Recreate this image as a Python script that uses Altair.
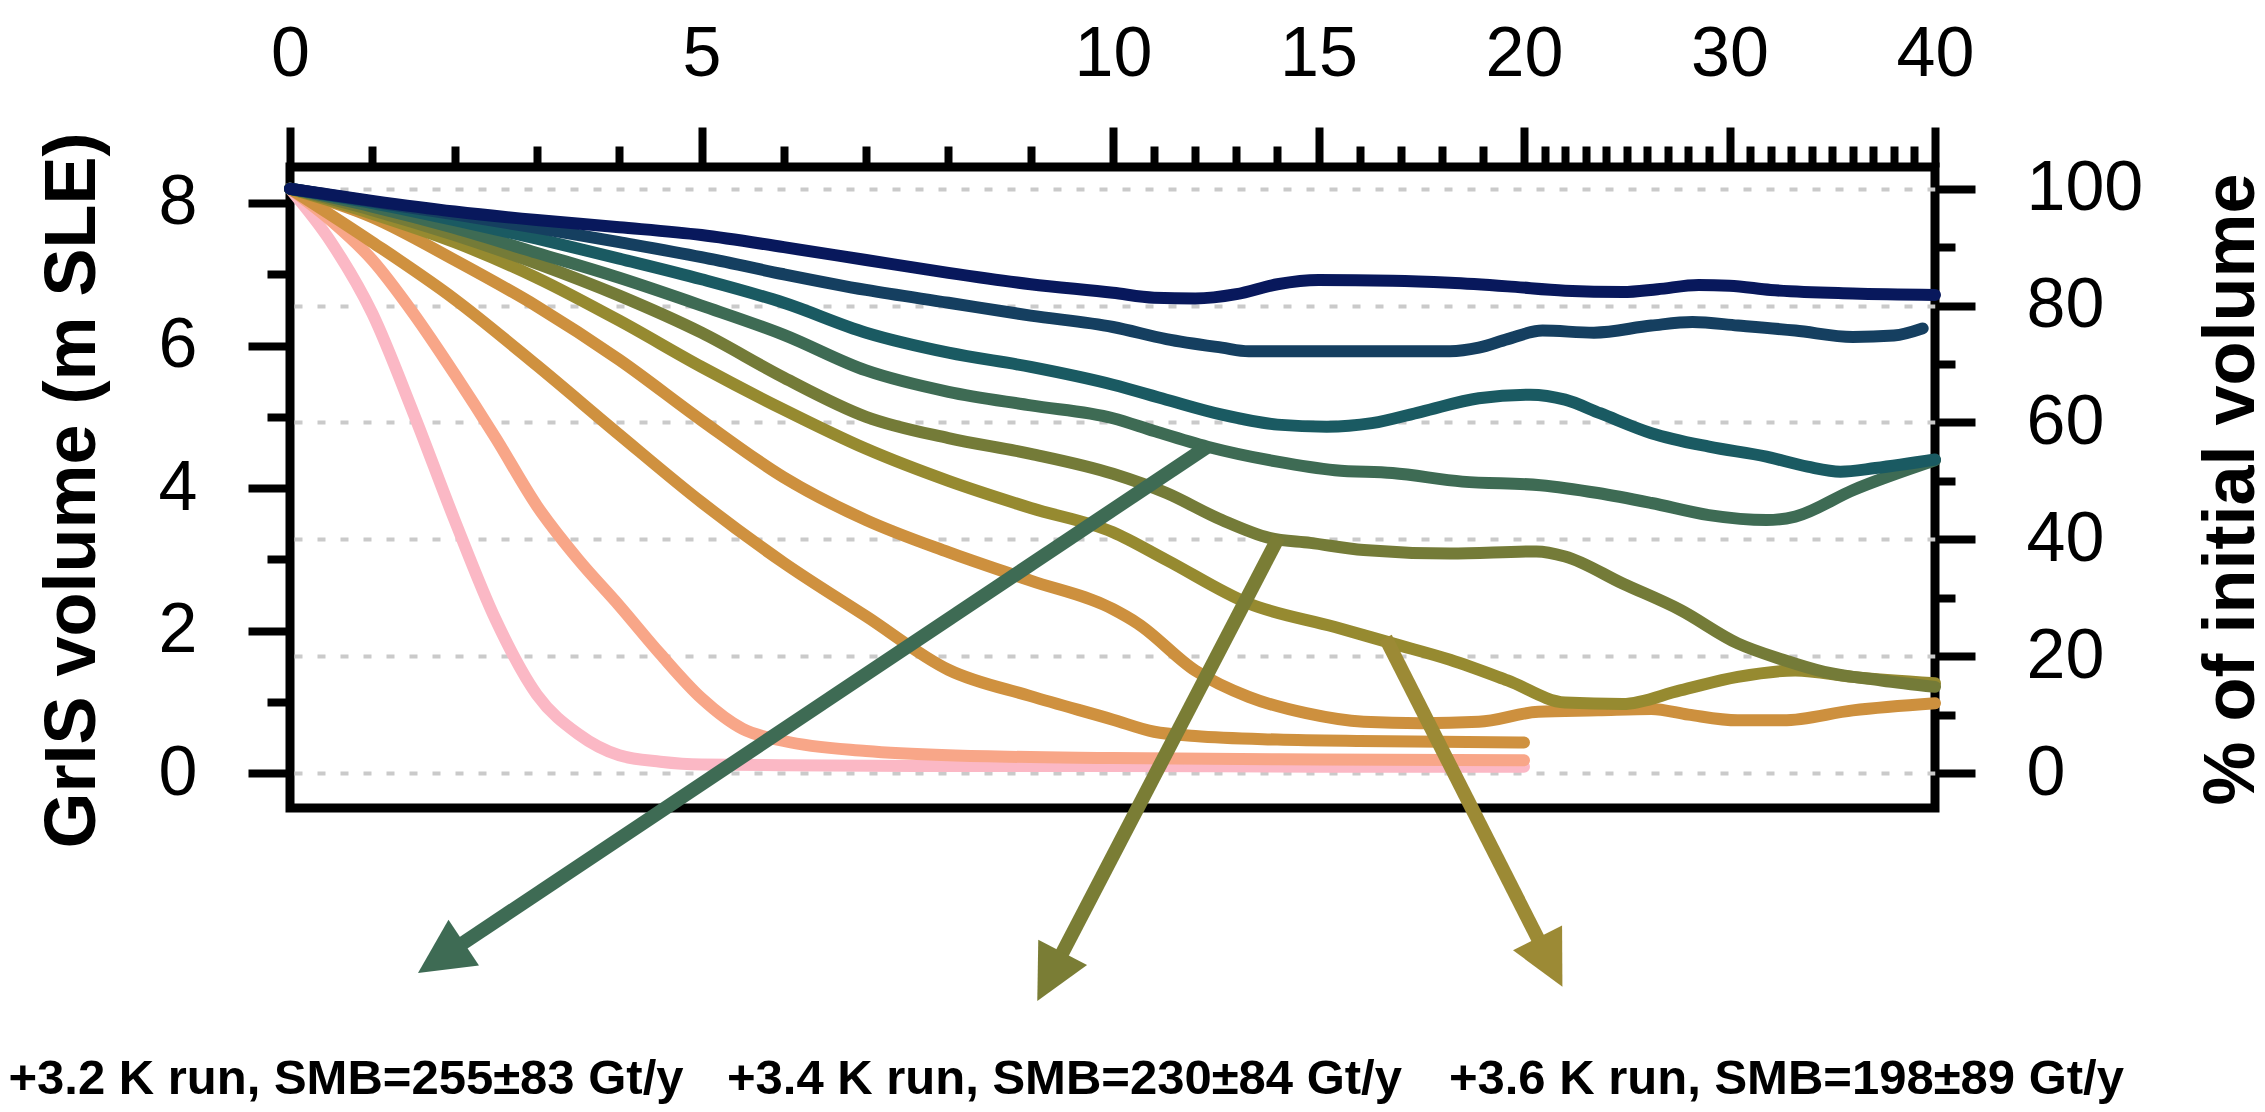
import math
import altair as alt
import pandas as pd

# ---------------- axis ticks ----------------
X_MAJOR = [0, 5, 10, 15, 20, 30, 40]
X_MINOR = [i for i in range(1, 40) if i not in X_MAJOR]
Y_MAJOR = [0, 2, 4, 6, 8]
Y_MINOR = [1, 3, 5, 7]
PCT_MAJOR = [0, 20, 40, 60, 80, 100]
PCT_MINOR = [10, 30, 50, 70, 90]
INITIAL_VOLUME = 8.2  # m SLE == 100 %

# ---------------- series (time, GrIS volume in m SLE) ----------------
run_names = ["r01", "r02", "r03", "r04", "r05", "r06", "r07", "r08", "r09", "r10"]

r01_t = [0, 0.5, 1, 1.5, 2, 2.5, 3, 3.5, 4, 4.5, 5, 6, 8, 10, 15, 20]
r01_v = [8.2, 7.45, 6.45, 5.05, 3.55, 2.15, 1.1, 0.55, 0.25, 0.16, 0.12, 0.11, 0.1, 0.1, 0.09, 0.09]

r02_t = [0, 0.5, 1, 1.5, 2, 2.5, 3, 3.5, 4, 4.5, 5, 5.5, 6, 7, 8, 10, 15, 20]
r02_v = [8.2, 7.75, 7.2, 6.45, 5.6, 4.7, 3.75, 3.0, 2.35, 1.67, 1.05, 0.62, 0.45, 0.31, 0.25, 0.21, 0.19, 0.18]

r03_t = [0, 1, 2, 3, 4, 5, 6, 7, 8, 9, 10, 11, 12, 14, 16, 18, 20]
r03_v = [8.2, 7.45, 6.65, 5.72, 4.75, 3.8, 2.95, 2.2, 1.45, 1.08, 0.75, 0.58, 0.52, 0.47, 0.45, 0.44, 0.43]

r04_t = [0, 1, 2, 3, 4, 5, 6, 7, 8, 9, 10, 10.6, 12, 13.3, 14.7, 16.1, 17.5, 18.9,
         20.7, 23.6, 26.2, 28, 30.4, 32.6, 36, 40]
r04_v = [8.2, 7.8, 7.2, 6.55, 5.8, 4.95, 4.15, 3.55, 3.1, 2.7, 2.3, 2.1, 1.44, 1.07, 0.84, 0.72, 0.70, 0.72,
         0.86, 0.88, 0.90, 0.82, 0.74, 0.74, 0.88, 0.98]

r05_t = [0, 1, 2, 3, 4, 5, 6, 7, 8, 9, 10, 11.3, 13.3, 15.4, 16.8, 18.2, 19.6, 22, 24.8,
         27.6, 30.4, 33.2, 36, 40]
r05_v = [8.2, 7.85, 7.45, 6.95, 6.35, 5.7, 5.1, 4.55, 4.1, 3.72, 3.38, 2.99, 2.38, 2.05, 1.82, 1.59, 1.30, 0.99, 0.97,
         1.16, 1.35, 1.44, 1.35, 1.26]

r06_t = [0, 1, 2, 3, 4, 5, 6, 7, 8, 9, 10, 11.3, 12.65, 13.8, 14.8, 16.1, 18.2, 20.6, 22,
         24.8, 27.6, 30.4, 32.6, 34.6, 37.4, 40]
r06_v = [8.2, 7.9, 7.55, 7.15, 6.7, 6.18, 5.55, 5.0, 4.7, 4.48, 4.2, 3.93, 3.55, 3.30, 3.23, 3.13, 3.08, 3.11, 3.04,
         2.66, 2.29, 1.82, 1.59, 1.42, 1.30, 1.21]

r07_t = [0, 1, 2, 3, 4, 5, 6, 7, 8, 9, 10, 11, 12.3, 14, 15.4, 16.8, 18.5, 20.8, 23.6,
         26.2, 29, 31.8, 33.2, 36, 40]
r07_v = [8.2, 7.95, 7.65, 7.3, 6.95, 6.56, 6.15, 5.65, 5.35, 5.16, 4.98, 4.8, 4.58, 4.37, 4.25, 4.21, 4.09, 4.04, 3.93,
         3.79, 3.62, 3.55, 3.60, 3.97, 4.39]

r08_t = [0, 1, 2, 3, 4, 5, 6, 7, 8, 9, 10, 11.3, 12.65, 14, 15.2, 16.3, 17.5, 18.9, 20.3,
         22, 23.7, 26.2, 29, 31.8, 33.8, 35.4, 37.1, 40]
r08_v = [8.2, 8.0, 7.76, 7.5, 7.22, 6.93, 6.6, 6.18, 5.9, 5.7, 5.45, 5.24, 5.03, 4.89, 4.86, 4.91, 5.07, 5.26, 5.31,
         5.24, 5.05, 4.77, 4.58, 4.44, 4.30, 4.23, 4.28, 4.4]

r09_t = [0, 1, 2, 3, 4, 5, 6, 7, 8, 9, 10, 11.3, 12.65, 13.3, 14, 16, 18.2, 18.9, 19.6,
         20.9, 23.4, 26.2, 28.2, 30.4, 33.2, 36, 38, 39.4]
r09_v = [8.2, 8.02, 7.84, 7.65, 7.45, 7.24, 7.0, 6.78, 6.6, 6.42, 6.26, 6.09, 5.97, 5.92, 5.92, 5.92, 5.92, 5.97, 6.09,
         6.21, 6.18, 6.28, 6.33, 6.28, 6.21, 6.12, 6.14, 6.24]

r10_t = [0, 1, 2, 3, 4, 5, 6, 7, 8, 9, 10, 11, 12, 13, 14, 15, 16.8, 18.2, 19.6, 22, 24.8,
         26.5, 28.5, 30, 32, 36, 40]
r10_v = [8.2, 8.03, 7.88, 7.76, 7.66, 7.55, 7.38, 7.2, 7.02, 6.86, 6.74, 6.67, 6.66, 6.72, 6.86, 6.92, 6.91, 6.88,
         6.83, 6.77, 6.75, 6.79, 6.85, 6.84, 6.78, 6.73, 6.71]

run_colors = ["#fbb8c5", "#f8a688", "#cf913f", "#cd903e", "#968a30",
              "#747b38", "#3e6b54", "#1a5a62", "#153f60", "#08185c"]

# ---------------- annotations ----------------
arrow_ids = ["a1", "a2", "a3"]
arrow_from_t = [12.28, 14.03, 16.63]
arrow_from_v = [4.575, 3.312, 1.895]
arrow_to_t = [1.555, 9.08, 21.87]
arrow_to_v = [-2.807, -3.2, -3.0]
arrow_colors = ["#3e6b54", "#7a7d35", "#9c8a35"]

label_texts = ["+3.2 K run, SMB=255\u00b183 Gt/y",
               "+3.4 K run, SMB=230\u00b184 Gt/y",
               "+3.6 K run, SMB=198\u00b189 Gt/y"]
label_t = [0.68, 9.41, 32.77]
label_v = [-4.50, -4.50, -4.50]

# ---------------- geometry ----------------
W, H = 1645, 641
X_DOMAIN = [0, 10, 20, 40]
X_RANGE = [0, 823, 1234, 1645]
Y_DOMAIN = [-0.49, 8.505]
HEAD_LEN = 55.0

XS = alt.Scale(domain=X_DOMAIN, range=X_RANGE, nice=False, zero=False)
YS = alt.Scale(domain=Y_DOMAIN, nice=False, zero=False)


def px(t):
    for i in range(len(X_DOMAIN) - 1):
        if t <= X_DOMAIN[i + 1] or i == len(X_DOMAIN) - 2:
            a, b = X_DOMAIN[i], X_DOMAIN[i + 1]
            ra, rb = X_RANGE[i], X_RANGE[i + 1]
            return ra + (t - a) / (b - a) * (rb - ra)


def inv_px(x):
    for i in range(len(X_RANGE) - 1):
        if x <= X_RANGE[i + 1] or i == len(X_RANGE) - 2:
            a, b = X_DOMAIN[i], X_DOMAIN[i + 1]
            ra, rb = X_RANGE[i], X_RANGE[i + 1]
            return a + (x - ra) / (rb - ra) * (b - a)


def py(v):
    return H * (Y_DOMAIN[1] - v) / (Y_DOMAIN[1] - Y_DOMAIN[0])


def inv_py(y):
    return Y_DOMAIN[1] - y / H * (Y_DOMAIN[1] - Y_DOMAIN[0])


# ---------------- tables ----------------
series = [(r01_t, r01_v), (r02_t, r02_v), (r03_t, r03_v), (r04_t, r04_v), (r05_t, r05_v),
          (r06_t, r06_v), (r07_t, r07_v), (r08_t, r08_v), (r09_t, r09_v), (r10_t, r10_v)]
rows = []
for name, (ts, vs) in zip(run_names, series):
    for t, v in zip(ts, vs):
        rows.append({"run": name, "t": t, "v": v})
lines_df = pd.DataFrame(rows)

shaft_rows, head_rows = [], []
for aid, t0, v0, t1, v1 in zip(arrow_ids, arrow_from_t, arrow_from_v, arrow_to_t, arrow_to_v):
    x0, y0, x1, y1 = px(t0), py(v0), px(t1), py(v1)
    dx, dy = x1 - x0, y1 - y0
    ln = math.hypot(dx, dy)
    ux, uy = dx / ln, dy / ln
    xe, ye = x1 - 0.75 * HEAD_LEN * ux, y1 - 0.75 * HEAD_LEN * uy
    shaft_rows.append({"id": aid, "k": 0, "t": t0, "v": v0})
    shaft_rows.append({"id": aid, "k": 1, "t": inv_px(xe), "v": inv_py(ye)})
    ang = math.degrees(math.atan2(dx, -dy)) % 360
    head_rows.append({"id": aid, "t": t1, "v": v1, "ang": ang})
shaft_df = pd.DataFrame(shaft_rows)
head_df = pd.DataFrame(head_rows)
text_df = pd.DataFrame({"t": label_t, "v": label_v, "txt": label_texts})

FONT = "Liberation Sans, Arial, Helvetica, sans-serif"
TICK_W = 8
LABEL_FS = 70

common_axis = dict(domain=False, grid=False, tickColor="black", tickWidth=TICK_W,
                   labelColor="black", labelFont=FONT, labelFontSize=LABEL_FS,
                   labelFlush=False, labelOverlap=False, titleColor="black")

# main lines + major top/left axes
lines = alt.Chart(lines_df).mark_line(interpolate="monotone", strokeWidth=12, strokeCap="round").encode(
    x=alt.X("t:Q", scale=XS, axis=alt.Axis(orient="top", values=X_MAJOR, tickSize=40, labelPadding=52,
                                           labelBaseline="alphabetic", title=None, **common_axis)),
    y=alt.Y("v:Q", scale=YS, axis=alt.Axis(orient="left", values=Y_MAJOR, tickSize=42, labelPadding=51,
                                           title="GrIS volume (m SLE)", titleFont=FONT, titleFontSize=72,
                                           titleFontWeight="bold", titleAngle=270, titleX=-196, titleY=323,
                                           titleAlign="center", titleBaseline="alphabetic", **common_axis)),
    color=alt.Color("run:N", scale=alt.Scale(domain=run_names, range=run_colors), legend=None),
)

minor_ax = dict(domain=False, grid=False, tickColor="black", tickWidth=TICK_W, labels=False, title=None)
minor_tl = alt.Chart(lines_df).mark_point(opacity=0).encode(
    x=alt.X("t:Q", scale=XS, axis=alt.Axis(orient="top", values=X_MINOR, tickSize=21, **minor_ax)),
    y=alt.Y("v:Q", scale=YS, axis=alt.Axis(orient="left", values=Y_MINOR, tickSize=23, **minor_ax)),
)

pct_major_vals = [p / 100 * INITIAL_VOLUME for p in PCT_MAJOR]
pct_minor_vals = [p / 100 * INITIAL_VOLUME for p in PCT_MINOR]
right_major = alt.Chart(lines_df).mark_point(opacity=0).encode(
    x=alt.X("t:Q", scale=XS, axis=None),
    y=alt.Y("v:Q", scale=YS, axis=alt.Axis(
        orient="right", values=pct_major_vals, tickSize=40, labelPadding=51,
        labelExpr=f"format(datum.value / {INITIAL_VOLUME} * 100, '.0f')",
        domain=False, grid=True, gridColor="#cacaca", gridDash=[8, 15], gridWidth=4,
        tickColor="black", tickWidth=TICK_W, labelColor="black", labelFont=FONT,
        labelFontSize=LABEL_FS, labelFlush=False, labelOverlap=False,
        title="% of initial volume", titleFont=FONT, titleFontSize=72, titleFontWeight="bold",
        titleColor="black", titleAngle=270, titleX=318, titleY=322, titleAlign="center",
        titleBaseline="alphabetic")),
)
right_minor = alt.Chart(lines_df).mark_point(opacity=0).encode(
    x=alt.X("t:Q", scale=XS, axis=None),
    y=alt.Y("v:Q", scale=YS, axis=alt.Axis(orient="right", values=pct_minor_vals, tickSize=20, **minor_ax)),
)

shafts = alt.Chart(shaft_df).mark_line(strokeWidth=14, strokeCap="butt").encode(
    x=alt.X("t:Q", scale=XS, axis=None),
    y=alt.Y("v:Q", scale=YS, axis=None),
    color=alt.Color("id:N", scale=alt.Scale(domain=arrow_ids, range=arrow_colors), legend=None),
    order=alt.Order("k:Q"),
)

heads = alt.Chart(head_df).mark_point(shape="M0,0L0.5,1L-0.5,1Z", filled=True, opacity=1,
                                      strokeWidth=0).encode(
    x=alt.X("t:Q", scale=XS, axis=None),
    y=alt.Y("v:Q", scale=YS, axis=None),
    angle=alt.Angle("ang:Q", scale=None),
    size=alt.value((2 * HEAD_LEN) ** 2),
    color=alt.Color("id:N", scale=alt.Scale(domain=arrow_ids, range=arrow_colors), legend=None),
)

texts = alt.Chart(text_df).mark_text(font="Liberation Sans", fontSize=49, fontWeight="bold", align="center",
                                     baseline="alphabetic", color="black").encode(
    x=alt.X("t:Q", scale=XS, axis=None),
    y=alt.Y("v:Q", scale=YS, axis=None),
    text="txt:N",
)

chart = alt.layer(right_major, right_minor, minor_tl, lines, shafts, heads, texts).resolve_axis(
    x="independent", y="independent"
).resolve_scale(color="independent").properties(
    width=W, height=H,
    autosize=alt.AutoSizeParams(type="none"),
    padding={"left": 282, "top": 159, "right": 322, "bottom": 296},
    background="white",
).configure_view(stroke="black", strokeWidth=9)

chart.save("out.html", embed_options={"renderer": "svg", "actions": False})
